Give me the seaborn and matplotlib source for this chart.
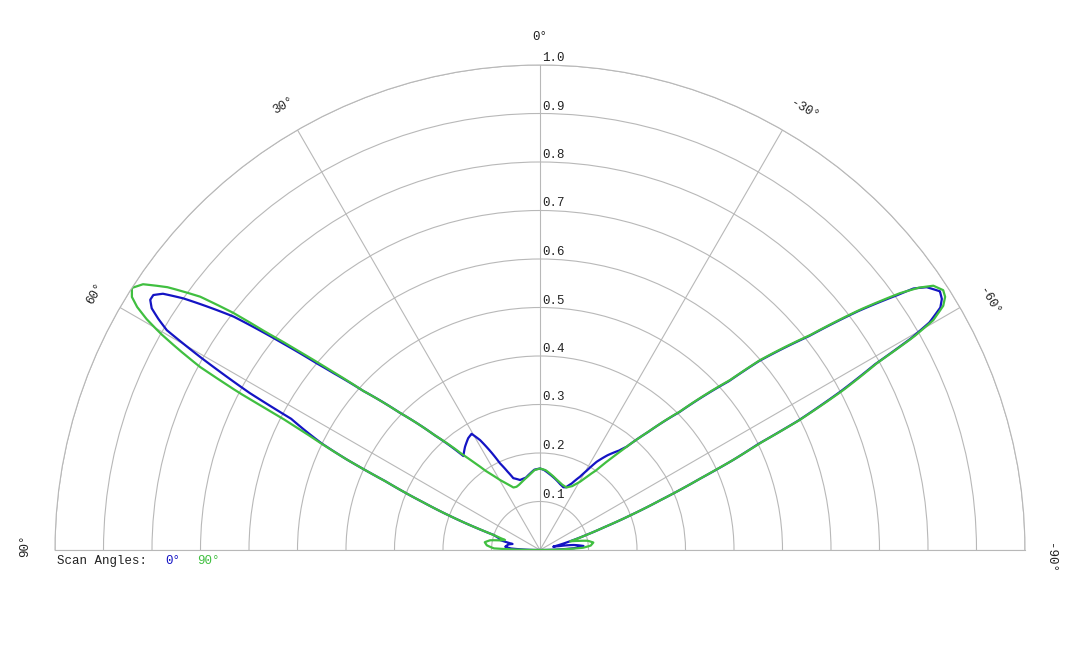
import numpy as np
import pandas as pd
import matplotlib
matplotlib.use("Agg")
import matplotlib.pyplot as plt
import seaborn as sns

# Patron de radiacion, angulos en grados (0 arriba, positivo a la izquierda)
theta_0 = [-90, -87, -84.7, -81.5, -78.5, -76, -74, -72, -70.5, -69, -67.5, -66, -65,
           -64.1, -63.4, -62.2, -61, -60.3, -59.7, -58.8, -58, -57.1, -55.8, -55, -54.5,
           -53.1, -51.5, -49.2, -48.2, -45.3, -42.5, -40, -38.5, -37, -35.5, -32.7, -30.5,
           -28.6, -25.5, -22.5, -20.4, -17, -12, -7, -3, 0, 4, 7.4, 11, 15.9, 20.4, 22.5,
           24.8, 26.5, 28.6, 30.5, 32.7, 36, 39.2, 42.5, 45.6, 48, 49.4, 50.1, 51.2, 52.7,
           54.8, 55.8, 56.6, 57.3, 58.1, 58.8, 59.5, 60.4, 61.6, 62.2, 63, 64, 64.9, 66,
           67.8, 69.5, 70.8, 72, 74, 76, 77.6, 80, 84.6, 87, 90]
r_0 = [0.0, 0.07, 0.09, 0.07, 0.04, 0.028, 0.06, 0.10, 0.14, 0.20, 0.27, 0.36, 0.44,
       0.50, 0.595, 0.70, 0.79, 0.88, 0.93, 0.965, 0.977, 0.982, 0.964, 0.94, 0.905,
       0.82, 0.708, 0.595, 0.522, 0.404, 0.33, 0.278, 0.262, 0.251, 0.24, 0.216, 0.19,
       0.172, 0.152, 0.14, 0.138, 0.142, 0.15, 0.158, 0.165, 0.168, 0.166, 0.159, 0.152,
       0.150, 0.158, 0.175, 0.197, 0.225, 0.258, 0.278, 0.274, 0.263, 0.25, 0.32, 0.404,
       0.49, 0.56, 0.60, 0.679, 0.794, 0.90, 0.94, 0.955, 0.955, 0.943, 0.92, 0.893,
       0.806, 0.68, 0.58, 0.545, 0.50, 0.44, 0.35, 0.26, 0.19, 0.14, 0.10, 0.088, 0.085,
       0.058, 0.066, 0.072, 0.06, 0.0]

theta_90 = [-90, -87, -85, -82, -79, -76.5, -74, -72, -70.5, -69, -67.5, -66, -65, -64.1,
            -63.4, -62.2, -61, -60.3, -59.7, -58.8, -58, -57.2, -56.1, -55.3, -54.5, -53.1,
            -51.5, -49.2, -48.2, -45.3, -42.5, -40, -38.2, -35.3, -32.5, -30.4, -27, -23,
            -19, -14, -8, -4, 0, 4, 8, 13, 17, 20.2, 23, 26.5, 29.7, 32, 34.2, 36.5, 39,
            42.5, 45.6, 48, 49.4, 50.3, 51.5, 52.3, 53.3, 54.8, 56.2, 57.3, 58.2, 58.9,
            59.6, 60.3, 61, 61.7, 62.4, 62.9, 63.5, 64.9, 66, 67.8, 69.5, 70.8, 72, 74,
            76.5, 79, 82, 85, 88, 90]
r_90 = [0.0, 0.089, 0.105, 0.111, 0.10, 0.08, 0.065, 0.10, 0.14, 0.20, 0.27, 0.36, 0.44,
        0.504, 0.599, 0.707, 0.794, 0.887, 0.939, 0.972, 0.985, 0.989, 0.977, 0.95, 0.912,
        0.825, 0.712, 0.599, 0.526, 0.406, 0.33, 0.278, 0.245, 0.202, 0.178, 0.163, 0.148,
        0.14, 0.142, 0.148, 0.158, 0.165, 0.168, 0.165, 0.156, 0.148, 0.142, 0.139, 0.14,
        0.152, 0.166, 0.180, 0.195, 0.22, 0.252, 0.32, 0.404, 0.49, 0.57, 0.63, 0.72,
        0.80, 0.874, 0.94, 0.985, 1.0, 0.99, 0.97, 0.94, 0.90, 0.85, 0.796, 0.70, 0.60,
        0.54, 0.44, 0.35, 0.26, 0.19, 0.14, 0.10, 0.075, 0.085, 0.105, 0.115, 0.11, 0.095,
        0.0]

scan_labels = ["0°", "90°"]
scan_colors = ["#1414c4", "#40bf40"]
ring_values = [0.1, 0.2, 0.3, 0.4, 0.5, 0.6, 0.7, 0.8, 0.9, 1.0]
ring_labels = ["0.1", "0.2", "0.3", "0.4", "0.5", "0.6", "0.7", "0.8", "0.9", "1.0"]
spoke_angles = [-90, -60, -30, 0, 30, 60, 90]

df = pd.concat([
    pd.DataFrame({"theta": np.deg2rad(theta_0), "r": r_0, "scan": scan_labels[0]}),
    pd.DataFrame({"theta": np.deg2rad(theta_90), "r": r_90, "scan": scan_labels[1]}),
], ignore_index=True)

sns.set_style("white")
plt.rcParams["font.family"] = ["Liberation Mono", "DejaVu Sans Mono"]

fig = plt.figure(figsize=(10.8, 6.48), dpi=100)
# el semicirculo se ajusta como si fuera el circulo completo: caja cuadrada de 970 px
# centrada en y=307.5 px (desde arriba) para que el centro quede en (540, 550)
ax = fig.add_axes([55 / 1080, (648 - 792.5) / 648, 970 / 1080, 970 / 648],
                  projection="polar")
ax.set_theta_zero_location("N")
ax.set_thetamin(-90)
ax.set_thetamax(90)

sns.lineplot(data=df, x="theta", y="r", hue="scan", hue_order=scan_labels,
             palette=scan_colors, sort=False, estimator=None, linewidth=1.6,
             legend=False, ax=ax)
# trazar los tramos como curvas en (theta, r) y no como cuerdas rectas
for ln in ax.lines:
    ln.get_path()._interpolation_steps = 16

ax.set_ylim(0, 1.0)
ax.set_yticks(ring_values)
ax.set_yticklabels([])
ax.set_xticks(np.deg2rad(spoke_angles))
ax.set_xticklabels([])
ax.tick_params(length=0)
ax.grid(True, color="#b8b8b8", linewidth=0.8)
for sp in ax.spines.values():
    sp.set_color("#b8b8b8")
    sp.set_linewidth(0.8)
ax.set_xlabel("")
ax.set_ylabel("")

# etiquetas radiales junto al eje de 0 grados
for v, lab in zip(ring_values, ring_labels):
    ax.annotate(lab, xy=(0, v), xytext=(2, 4), textcoords="offset pixels",
                ha="left", va="baseline", fontsize=9, color="#222222")

# etiquetas de angulo
for t in spoke_angles:
    off = (0, 0)
    pos = t
    if t == 90:
        off = (-2, 4)
    elif t == -90:
        off = (-3, -8)
    elif t < 0:
        pos = t - 1.0
    ax.annotate(f"{t}°", xy=(np.deg2rad(pos), 1.058), xytext=off,
                textcoords="offset pixels", ha="center", va="center",
                rotation=t, rotation_mode="anchor", fontsize=9, color="#222222",
                annotation_clip=False)

# leyenda
fig.text(57 / 1080, 1 - 561 / 648, "Scan Angles:", ha="left", va="center",
         fontsize=9, color="#222222")
fig.text(165 / 1080, 1 - 561 / 648, scan_labels[0], ha="left", va="center",
         fontsize=9, color=scan_colors[0])
fig.text(197 / 1080, 1 - 561 / 648, scan_labels[1], ha="left", va="center",
         fontsize=9, color=scan_colors[1])

fig.savefig("out.png", dpi=100)
